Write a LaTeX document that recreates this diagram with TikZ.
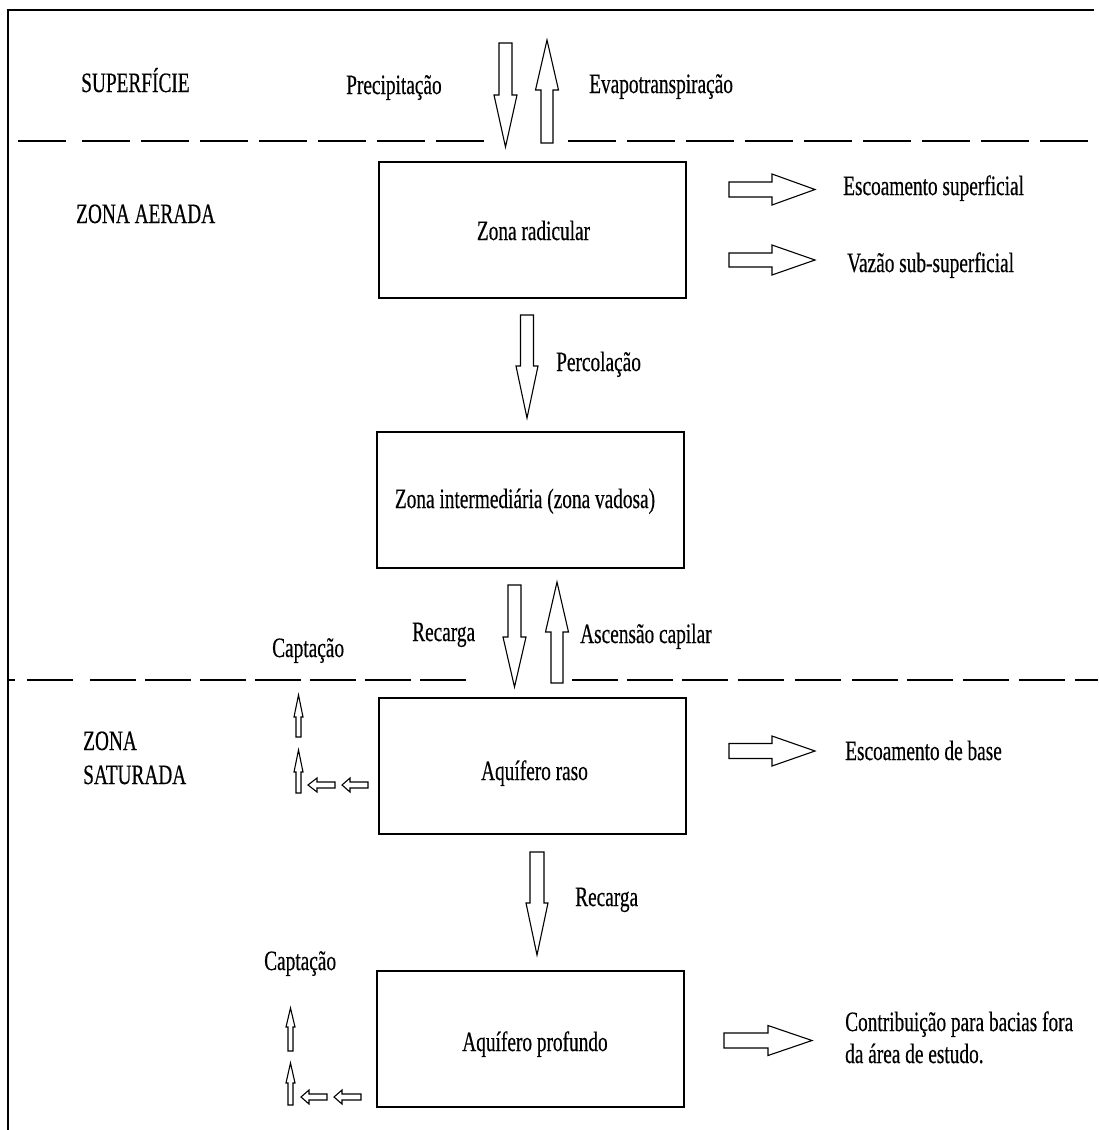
\documentclass[tikz,border=0pt]{standalone}
\usepackage{fontspec}
\setmainfont{Liberation Serif}[FakeStretch=0.69,FakeBold=0.4]
\begin{document}
\begin{tikzpicture}[x=1pt,y=-1pt,
  box/.style={draw,line width=1.3pt,rectangle,inner sep=0pt,minimum width=307pt,minimum height=136pt},
  blk/.style={draw,line width=1.1pt,line join=miter,fill=white},
  sep/.style={line width=1.8pt},
  lbl/.style={inner sep=0pt,font=\fontsize{28}{32}\selectfont}]
\useasboundingbox (0,0) rectangle (1098,1130);
% frame
\draw[line width=1.8pt] (8,1130) -- (8,10) -- (1094,10);
% dashed separators
\draw[sep] (18,141) -- (66,141);
\foreach \a in {82,141,200,259,318,377,436} {\draw[sep] (\a,141) -- (\a+48,141);}
\foreach \a in {568,627,686,745,804,863,922,981,1040} {\draw[sep] (\a,141) -- (\a+48,141);}
\draw[sep] (8,680) -- (15,680);
\foreach \a in {27,90,145,200,255,310,365,420} {\draw[sep] (\a,680) -- (\a+46,680);}
\foreach \a in {572,627,682,738,795,852,907,963,1019} {\draw[sep] (\a,680) -- (\a+46,680);}
\draw[sep] (1075,680) -- (1098,680);
% macros for block arrows
\newcommand\blkv[6]{\draw[blk] (#1-#5,#2) -- (#1+#5,#2) -- (#1+#5,#3) -- (#1+#6,#3) -- (#1,#4) -- (#1-#6,#3) -- (#1-#5,#3) -- cycle;}
\newcommand\blkh[6]{\draw[blk] (#2,#1-#5) -- (#2,#1+#5) -- (#3,#1+#5) -- (#3,#1+#6) -- (#4,#1) -- (#3,#1-#6) -- (#3,#1-#5) -- cycle;}
% boxes
\node[box] (zr) at (532.5,230) {};
\node[box] (zi) at (530.5,500) {};
\node[box] (ar) at (532.5,766) {};
\node[box] (ap) at (530.5,1039) {};
% vertical block arrows
\blkv{505.5}{43}{95}{147}{6.5}{11.5}
\blkv{547}{143}{90}{40}{6}{11.5}
\blkv{527}{315}{366}{418}{6.5}{11}
\blkv{514.5}{585}{637}{687}{6.5}{11.5}
\blkv{557}{683}{632}{582}{6}{11.5}
\blkv{537}{852}{903}{955}{7}{11}
% horizontal block arrows
\blkh{189.5}{729}{772}{815}{7.5}{15.5}
\blkh{260}{729}{772}{815}{7}{15}
\blkh{751}{729}{772}{815}{7.5}{15}
\blkh{1040.5}{724}{768}{812}{7.5}{15}
% small arrows (aquifero raso)
\blkv{298.5}{737}{717}{695}{2.5}{4.5}
\blkv{298.5}{793}{772}{750}{2.5}{4.5}
\blkh{785}{368}{350}{342}{3}{7}
\blkh{785}{335}{317}{308}{3}{7}
% small arrows (aquifero profundo)
\blkv{290.5}{1051}{1027}{1008}{2.5}{4.5}
\blkv{290.5}{1105}{1083}{1063}{2.5}{4.5}
\blkh{1097}{361}{342}{334}{3}{7}
\blkh{1097}{327}{309}{301}{3}{7}
% labels
\node[lbl,anchor=base west] (t1) at (81,92) {SUPERFÍCIE};
\node[lbl,anchor=base west] (t2) at (346,94) {Precipitação};
\node[lbl,anchor=base west] (t3) at (589,93) {Evapotranspiração};
\node[lbl,anchor=base west] (t4) at (76,223) {ZONA AERADA};
\node[lbl,anchor=base] (t5) at (533.5,240) {Zona radicular};
\node[lbl,anchor=base west] (t6) at (843,195) {Escoamento superficial};
\node[lbl,anchor=base west] (t7) at (847,272) {Vazão sub-superficial};
\node[lbl,anchor=base west] (t8) at (556,371) {Percolação};
\node[lbl,anchor=base] (t9) at (525,508) {Zona intermediária (zona vadosa)};
\node[lbl,anchor=base west] (t10) at (412,641) {Recarga};
\node[lbl,anchor=base west] (t11) at (580,643) {Ascensão capilar};
\node[lbl,anchor=base west] (t12) at (272,657) {Captação};
\node[lbl,anchor=base west] (t13) at (83,750) {ZONA};
\node[lbl,anchor=base west] (t14) at (83,784) {SATURADA};
\node[lbl,anchor=base] (t15) at (534.5,780) {Aquífero raso};
\node[lbl,anchor=base west] (t16) at (845,760) {Escoamento de base};
\node[lbl,anchor=base west] (t17) at (575,906) {Recarga};
\node[lbl,anchor=base west] (t18) at (264,970) {Captação};
\node[lbl,anchor=base] (t19) at (535,1051) {Aquífero profundo};
\node[lbl,anchor=base west] (t20) at (845,1031) {Contribuição para bacias fora};
\node[lbl,anchor=base west] (t21) at (845,1063) {da área de estudo.};
\end{tikzpicture}
\end{document}
